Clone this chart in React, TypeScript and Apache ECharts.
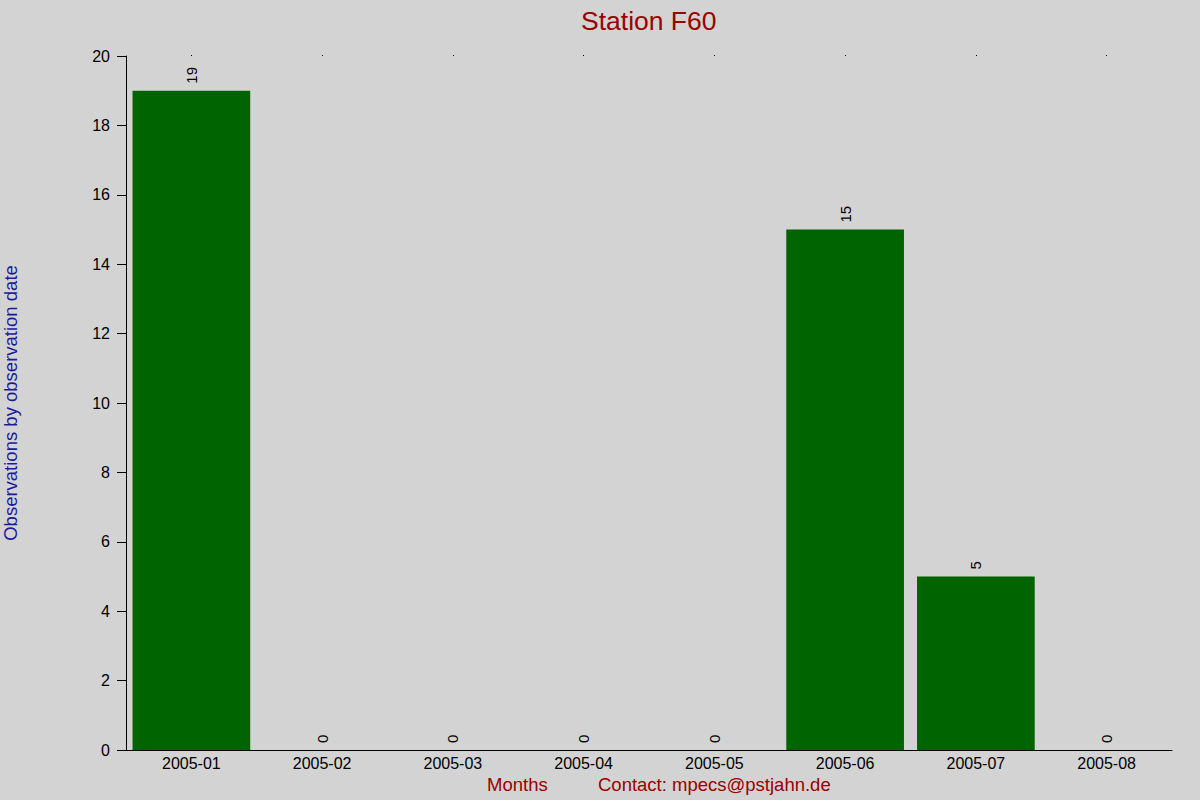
import React, { useEffect, useRef } from "react";
import * as echarts from "echarts";

const months = ["2005-01", "2005-02", "2005-03", "2005-04", "2005-05", "2005-06", "2005-07", "2005-08"];
const observations = [19, 0, 0, 0, 0, 15, 5, 0];
const titleText = "Station F60";
const yAxisTitle = "Observations by observation date";
const xAxisTitle = "Months";
const contactText = "Contact: mpecs@pstjahn.de";

const FONT = "'Liberation Sans', Arial, sans-serif";

export default function App() {
  const ref = useRef<HTMLDivElement>(null);
  useEffect(() => {
    if (!ref.current) return;
    const chart = echarts.init(ref.current, null, { renderer: "svg" });
    chart.setOption({
      animation: false,
      backgroundColor: "#d3d3d3",
      textStyle: { fontFamily: FONT },
      title: {
        text: titleText,
        left: 576,
        top: 2,
        textStyle: { color: "#990000", fontSize: 26.5, fontWeight: "normal", fontFamily: FONT },
      },
      grid: { left: 126, right: 28, top: 56, bottom: 50, containLabel: false, outerBoundsMode: "none" },
      xAxis: [
        {
          type: "category",
          data: months,
          axisLine: { show: true, lineStyle: { color: "#000", width: 1 } },
          axisTick: { show: false },
          axisLabel: { color: "#000", fontSize: 16, margin: 5, fontFamily: FONT },
          splitLine: { show: false },
        },
        {
          type: "category",
          data: months,
          position: "top",
          axisLine: { show: false },
          axisTick: { show: true, alignWithLabel: true, length: 1, lineStyle: { color: "#000" } },
          axisLabel: { show: false },
        },
      ],
      yAxis: {
        type: "value",
        min: 0,
        max: 20,
        interval: 2,
        name: yAxisTitle,
        nameLocation: "middle",
        nameGap: 106,
        nameTextStyle: { color: "#1a1a9a", fontSize: 18.5, fontFamily: FONT },
        axisLine: { show: true, lineStyle: { color: "#000", width: 1 } },
        axisTick: { show: true, length: 9, lineStyle: { color: "#000" } },
        axisLabel: { color: "#000", fontSize: 16, margin: 16, fontFamily: FONT },
        splitLine: { show: false },
      },
      series: [
        {
          type: "bar",
          data: observations,
          barWidth: "90%",
          itemStyle: { color: "#006400" },
          label: {
            show: true,
            position: "top",
            rotate: 90,
            align: "left",
            verticalAlign: "middle",
            distance: 7,
            color: "#000",
            fontSize: 15,
            fontFamily: FONT,
          },
        },
      ],
      graphic: [
        {
          type: "text",
          left: 487,
          top: 775,
          style: { text: xAxisTitle, fill: "#990000", fontSize: 18.5, fontFamily: FONT },
        },
        {
          type: "text",
          left: 598,
          top: 775,
          style: { text: contactText, fill: "#990000", fontSize: 18.5, fontFamily: FONT },
        },
      ],
    });
    return () => chart.dispose();
  }, []);
  return <div ref={ref} style={{ width: 1200, height: 800, position: "absolute", left: 0, top: 0 }} />;
}
